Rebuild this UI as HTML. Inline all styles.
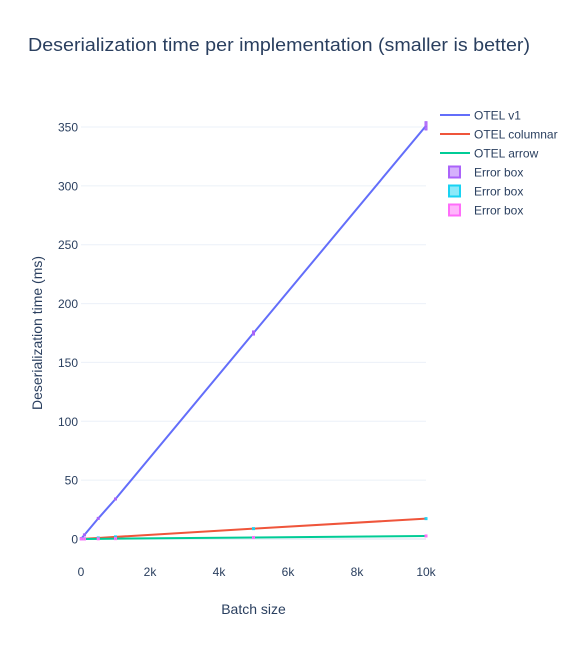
<!DOCTYPE html>
<html><head><meta charset="utf-8"><style>
body{margin:0;background:#fff;font-family:"Liberation Sans",sans-serif;}
svg text{font-family:"Liberation Sans",sans-serif;fill:#2a3f5f;}
</style></head><body>
<svg id="chart" width="576" height="643" xmlns="http://www.w3.org/2000/svg">
<rect width="576" height="643" fill="#fff"/>
<text x="28" y="51" font-size="18" textLength="502" lengthAdjust="spacingAndGlyphs">Deserialization time per implementation (smaller is better)</text>
<g id="grid"></g>
<g id="marks"></g>
<g id="axes"></g>
<text x="253.5" y="614" font-size="14" text-anchor="middle">Batch size</text>
<text transform="translate(42,333) rotate(-90)" font-size="14" text-anchor="middle">Deserialization time (ms)</text>
<g id="legend"></g>
</svg>
<script>
const batchSizes=[10,100,500,1000,5000,10000];
const v1Values=[0.4,3.5,17.5,34,175,351];
const columnarValues=[0.02,0.2,0.9,1.8,8.8,17.3];
const arrowValues=[0.01,0.03,0.15,0.3,1.3,2.6];
const xTicks=[0,2000,4000,6000,8000,10000];
const xTickLabels=["0","2k","4k","6k","8k","10k"];
const yTicks=[0,50,100,150,200,250,300,350];
const seriesNames=["OTEL v1","OTEL columnar","OTEL arrow"];
const lineColors=["#636efa","#ef553b","#00cc96"];
const boxColors=["#ab63fa","#19d3f3","#ff6dfa"];
const NS="http://www.w3.org/2000/svg";
const X0=81,X1=426,Y0=539,Y1=127;
const xs=v=>X0+(v/10000)*(X1-X0);
const ys=v=>Y0-(v/350)*(Y0-Y1);
function mk(tag,attrs,parent){const e=document.createElementNS(NS,tag);for(const k in attrs)e.setAttribute(k,attrs[k]);parent.appendChild(e);return e;}
const grid=document.getElementById('grid'),axes=document.getElementById('axes'),marks=document.getElementById('marks'),legend=document.getElementById('legend');
yTicks.forEach(t=>{
 if(t>0){const l=mk('line',{x1:X0,x2:X1,y1:ys(t),y2:ys(t),stroke:'#ebf0f8','stroke-width':1},grid);
 
 }
 const tx=mk('text',{x:X0-3,y:ys(t)+4.5,'font-size':12,'text-anchor':'end'},axes);tx.textContent=t;
 
 
});
xTicks.forEach((t,i)=>{
 const tx=mk('text',{x:xs(t),y:576,'font-size':12,'text-anchor':'middle'},axes);tx.textContent=xTickLabels[i];
 
 
});
const zl=mk('line',{x1:X0,x2:X1,y1:Y0,y2:Y0,stroke:'#ebf0f8','stroke-width':2},grid);


const all=[v1Values,columnarValues,arrowValues];
all.forEach((vals,si)=>{
 const pts=batchSizes.map((b,i)=>xs(b)+','+ys(vals[i])).join(' ');
 const pl=mk('polyline',{points:pts,fill:'none',stroke:lineColors[si],'stroke-width':2},marks);
 
 
});
all.forEach((vals,si)=>{
 batchSizes.forEach((b,i)=>{
  const h=Math.max(2,vals[i]*0.01*1.177*2);
  const r=mk('rect',{x:xs(b)-1,y:ys(vals[i])-h/2,width:2,height:h,fill:boxColors[si],'fill-opacity':0.8,stroke:boxColors[si],'stroke-width':1},marks);
  
  
 });
});
seriesNames.forEach((n,i)=>{
 const y=115+i*19;
 const l=mk('line',{x1:440,x2:470,y1:y,y2:y,stroke:lineColors[i],'stroke-width':2},legend);
 
 
 const t=mk('text',{x:474,y:y+4.5,'font-size':12},legend);t.textContent=n;
 
 
});
boxColors.forEach((c,i)=>{
 const y=172+i*19;
 const r=mk('rect',{x:449,y:y-5.5,width:11,height:11,fill:c,'fill-opacity':0.5,stroke:c,'stroke-width':2},legend);
 
 
 const t=mk('text',{x:474,y:y+4.5,'font-size':12},legend);t.textContent='Error box';
 
 
});
</script>
</body></html>
